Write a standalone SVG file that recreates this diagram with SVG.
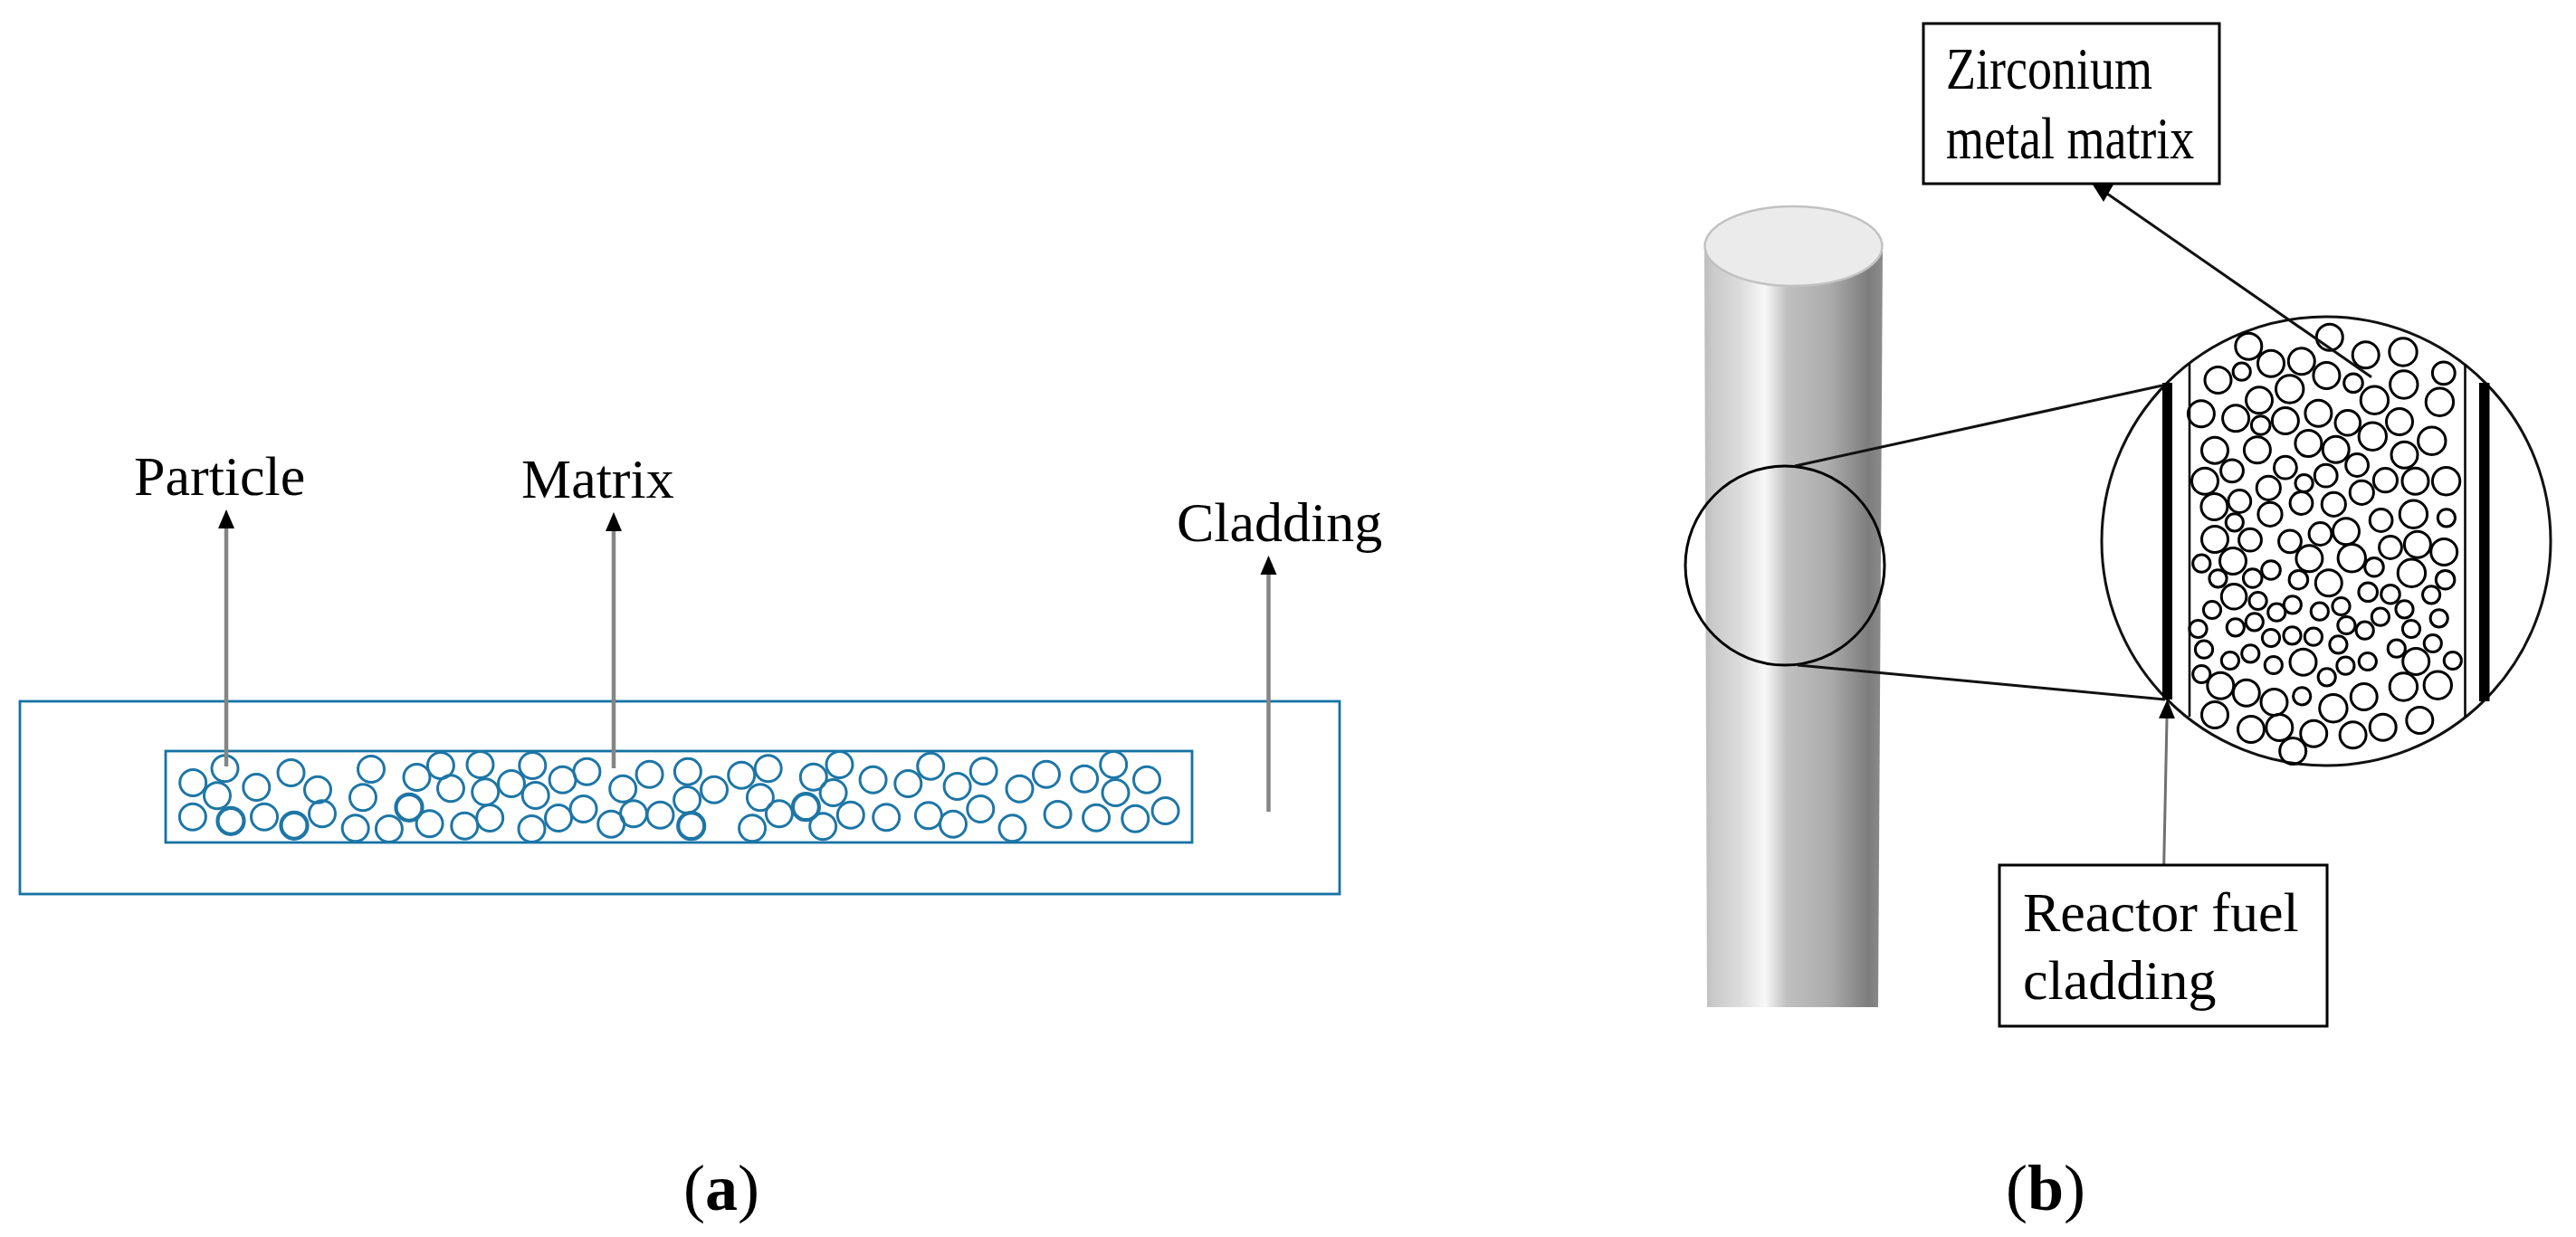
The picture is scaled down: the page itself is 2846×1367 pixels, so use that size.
<svg xmlns="http://www.w3.org/2000/svg" width="2846" height="1367" viewBox="0 0 2846 1367">
<style>
.t{font-family:"Liberation Serif","Times New Roman",serif;font-size:62px;fill:#000}
.z{font-size:54px}
.cap{font-size:72px}
.b{font-weight:bold}
.blue{fill:none;stroke:#1472a4;stroke-width:2.8}
.pa{fill:none;stroke:#1d76a6;stroke-width:3}
.th{stroke-width:4.2}
.bk{fill:none;stroke:#000;stroke-width:3}
.box{fill:#fff;stroke:#000;stroke-width:3}
.ar{stroke:#858585;stroke-width:4.5;fill:none;marker-end:url(#h)}
.zm{stroke:#111;stroke-width:3;fill:none}
.bar{fill:#000}
</style>
<defs>
<marker id="h" markerUnits="userSpaceOnUse" markerWidth="22" markerHeight="20" refX="0" refY="10" orient="auto"><path d="M0 1 L21 10 L0 19 Z" fill="#000"/></marker>
<linearGradient id="cyl" x1="0" y1="0" x2="1" y2="0">
<stop offset="0" stop-color="#bdbdbd"/><stop offset=".05" stop-color="#cacaca"/><stop offset=".2" stop-color="#dcdcdc"/><stop offset=".34" stop-color="#f8f8f8"/><stop offset=".46" stop-color="#c0c0c0"/><stop offset=".7" stop-color="#acacac"/><stop offset=".92" stop-color="#7d7d7d"/><stop offset="1" stop-color="#8c8c8c"/>
</linearGradient>
</defs>
<rect width="2846" height="1367" fill="#fff"/>
<g id="cladding-rect"><rect class="blue" x="22" y="775" width="1458" height="213"/></g>
<g id="matrix-rect"><rect class="blue" x="183" y="830" width="1134" height="101"/></g>
<g id="particles" class="pa">
<circle cx="248.5" cy="849.3" r="14.5"/><circle cx="213.2" cy="865" r="14.5"/><circle cx="240" cy="879.3" r="14.5"/><circle cx="283.3" cy="870" r="14.5"/><circle cx="321.5" cy="854" r="14.5"/><circle cx="351" cy="872.7" r="14.5"/><circle cx="212.9" cy="902.7" r="14.5"/><circle class="th" cx="255" cy="907.3" r="14.5"/><circle cx="292" cy="902.7" r="14.5"/><circle class="th" cx="325" cy="912.3" r="14.5"/><circle cx="356" cy="899.3" r="14.5"/><circle cx="410" cy="850" r="14.5"/><circle cx="401" cy="881.3" r="14.5"/><circle cx="392.7" cy="915.3" r="14.5"/><circle cx="429.9" cy="916" r="14.5"/><circle class="th" cx="452" cy="892.3" r="14.5"/><circle cx="474.6" cy="910.3" r="14.5"/><circle cx="460.5" cy="859" r="14.5"/><circle cx="486.9" cy="846" r="14.5"/><circle cx="498" cy="871.3" r="14.5"/><circle cx="530.5" cy="845" r="14.5"/><circle cx="536.2" cy="875.3" r="14.5"/><circle cx="565" cy="866" r="14.5"/><circle cx="588.3" cy="846" r="14.5"/><circle cx="591.7" cy="879" r="14.5"/><circle cx="621.6" cy="861.7" r="14.5"/><circle cx="648.4" cy="852.7" r="14.5"/><circle cx="688.2" cy="871.7" r="14.5"/><circle cx="717.6" cy="855.7" r="14.5"/><circle cx="617" cy="904" r="14.5"/><circle cx="644.6" cy="894" r="14.5"/><circle cx="675.2" cy="910.7" r="14.5"/><circle cx="700" cy="899.3" r="14.5"/><circle cx="729.5" cy="900.7" r="14.5"/><circle cx="541.2" cy="904" r="14.5"/><circle cx="513.3" cy="912.7" r="14.5"/><circle cx="587.5" cy="916" r="14.5"/>
<circle cx="759.9" cy="852.7" r="14.5"/><circle cx="759.1" cy="884" r="14.5"/><circle class="th" cx="763.7" cy="912.7" r="14.5"/><circle cx="789" cy="872.7" r="14.5"/><circle cx="819.2" cy="856.7" r="14.5"/><circle cx="848.7" cy="849.3" r="14.5"/><circle cx="839.9" cy="881.3" r="14.5"/><circle cx="860.9" cy="899.3" r="14.5"/><circle cx="831.1" cy="915.3" r="14.5"/><circle class="th" cx="890.4" cy="891.7" r="14.5"/><circle cx="909.2" cy="913.3" r="14.5"/><circle cx="898.8" cy="858.7" r="14.5"/><circle cx="927.5" cy="845" r="14.5"/><circle cx="920.6" cy="876" r="14.5"/><circle cx="939.8" cy="900.7" r="14.5"/><circle cx="964.6" cy="861.7" r="14.5"/><circle cx="979.2" cy="903.3" r="14.5"/><circle cx="1003.3" cy="866" r="14.5"/><circle cx="1028.2" cy="846.7" r="14.5"/><circle cx="1057.6" cy="869" r="14.5"/><circle cx="1086.7" cy="852.3" r="14.5"/><circle cx="1025.9" cy="901.3" r="14.5"/><circle cx="1053" cy="910.7" r="14.5"/><circle cx="1083.3" cy="894" r="14.5"/><circle cx="1126.5" cy="871.7" r="14.5"/><circle cx="1156" cy="855.7" r="14.5"/><circle cx="1198.1" cy="860.7" r="14.5"/><circle cx="1230.2" cy="845" r="14.5"/><circle cx="1232.5" cy="876" r="14.5"/><circle cx="1267" cy="861.7" r="14.5"/><circle cx="1118.5" cy="915.3" r="14.5"/><circle cx="1168.6" cy="900" r="14.5"/><circle cx="1211.1" cy="903.7" r="14.5"/><circle cx="1254.3" cy="904.7" r="14.5"/><circle cx="1287.6" cy="896" r="14.5"/>
</g>
<g id="label-particle"><text class="t" x="148" y="547">Particle</text></g>
<g id="label-matrix"><text class="t" x="576" y="550">Matrix</text></g>
<g id="label-cladding"><text class="t" x="1300" y="598">Cladding</text></g>
<g id="caption-a"><text class="t cap" x="755" y="1337">(<tspan class="b">a</tspan>)</text></g>

<g id="cylinder">
<path d="M1883 272 L2080 272 L2075 1113 L1886 1113 Z" fill="url(#cyl)"/>
<ellipse cx="1981.5" cy="272" rx="98" ry="44" fill="#ebebeb" stroke="#c2c2c2" stroke-width="2.5"/>
</g>
<g id="detail-circle"><circle cx="1972" cy="625" r="110" fill="none" stroke="#000" stroke-width="3"/></g>
<g id="magnified">
<circle cx="2570" cy="598" r="248" fill="#fff" stroke="#111" stroke-width="3"/>
<rect class="bar" x="2389" y="423" width="11" height="350"/>
<rect class="bar" x="2739" y="423" width="11.5" height="352"/>
<line x1="2419" y1="402" x2="2419" y2="792" stroke="#000" stroke-width="2.5"/>
<line x1="2723.5" y1="402" x2="2723.5" y2="792" stroke="#000" stroke-width="2.5"/>
</g>
<g id="grains" class="bk">
<circle cx="2484.3" cy="382.7" r="14.5"/><circle cx="2476.7" cy="410.7" r="9.6"/><circle cx="2509" cy="401.7" r="14.5"/><circle cx="2542.8" cy="399.3" r="14.5"/><circle cx="2450.5" cy="420" r="14.5"/><circle cx="2573.8" cy="372.7" r="14.5"/><circle cx="2613.7" cy="392.3" r="14.5"/><circle cx="2655" cy="389" r="15.2"/><circle cx="2699.8" cy="412.3" r="12.4"/><circle cx="2570.4" cy="415" r="14.5"/><circle cx="2600" cy="423.3" r="10.3"/><circle cx="2529.7" cy="430" r="15.2"/><circle cx="2655.8" cy="425" r="15.2"/><circle cx="2623.4" cy="442.3" r="15.2"/><circle cx="2496" cy="442.3" r="14.5"/><circle cx="2695.4" cy="444.3" r="15.2"/><circle cx="2431.9" cy="457.3" r="14.5"/><circle cx="2470.1" cy="462.3" r="14.5"/><circle cx="2497.7" cy="470" r="10.3"/><circle cx="2524.9" cy="465" r="14.5"/><circle cx="2561.4" cy="456.7" r="14.5"/><circle cx="2593.8" cy="467.3" r="13.8"/><circle cx="2651" cy="466" r="14.5"/><circle cx="2621.3" cy="482.3" r="15.2"/><circle cx="2550.4" cy="490" r="14.5"/><circle cx="2580.7" cy="496.7" r="14.5"/><circle cx="2686.8" cy="487.3" r="15.2"/><circle cx="2447" cy="497.7" r="14.5"/><circle cx="2493.9" cy="497.3" r="14.5"/><circle cx="2656.5" cy="502.7" r="14.5"/><circle cx="2604.1" cy="514" r="12.4"/><circle cx="2524.9" cy="516.7" r="12.4"/><circle cx="2466" cy="520.3" r="12.4"/><circle cx="2436" cy="531.7" r="14.5"/><circle cx="2569.7" cy="525.7" r="12.4"/><circle cx="2545.6" cy="534" r="9.6"/><circle cx="2506.3" cy="539.3" r="13.1"/><circle cx="2635.4" cy="530.7" r="13.1"/><circle cx="2668.5" cy="531.7" r="14.5"/><circle cx="2702.6" cy="531.7" r="15.2"/><circle cx="2609.3" cy="544.3" r="13.1"/><circle cx="2446.4" cy="560" r="14.5"/><circle cx="2474.3" cy="554" r="12.4"/><circle cx="2542.5" cy="556" r="12.4"/><circle cx="2578.3" cy="557.3" r="13.1"/><circle cx="2508" cy="568.3" r="13.1"/><circle cx="2630.6" cy="575" r="12.4"/><circle cx="2666.4" cy="568.3" r="15.2"/><circle cx="2702.9" cy="572.3" r="9.6"/><circle cx="2468.8" cy="577.3" r="9.6"/>
<circle cx="2447" cy="596" r="14.5"/><circle cx="2486" cy="596.7" r="12.4"/><circle cx="2530" cy="598.3" r="12.4"/><circle cx="2563.5" cy="590" r="12.4"/><circle cx="2592" cy="587.3" r="14.5"/><circle cx="2641" cy="605" r="12.4"/><circle cx="2670.9" cy="601.7" r="14.5"/><circle cx="2700.2" cy="610" r="14.5"/><circle cx="2551.4" cy="617.3" r="14.5"/><circle cx="2598.3" cy="616.7" r="15.2"/><circle cx="2623" cy="626.7" r="10.3"/><circle cx="2467" cy="620" r="14.5"/><circle cx="2432.3" cy="622.7" r="9.6"/><circle cx="2664.4" cy="633.3" r="15.2"/><circle cx="2509" cy="630" r="10.3"/><circle cx="2450.5" cy="639.3" r="9.6"/><circle cx="2488.7" cy="639" r="10.3"/><circle cx="2539.4" cy="640.7" r="10.3"/><circle cx="2572.8" cy="644.3" r="14.5"/><circle cx="2701.6" cy="640.7" r="10.3"/><circle cx="2616.2" cy="654.3" r="10.3"/><circle cx="2641" cy="656.7" r="10.3"/><circle cx="2686.1" cy="657.3" r="9.6"/><circle cx="2468.1" cy="659.3" r="13.8"/><circle cx="2494.6" cy="664" r="9.6"/><circle cx="2444" cy="674" r="9.6"/><circle cx="2532.8" cy="668.3" r="9.6"/><circle cx="2515.3" cy="676.7" r="9.6"/><circle cx="2562.8" cy="675.7" r="9.6"/><circle cx="2586.5" cy="670" r="9.6"/><circle cx="2656.5" cy="673.3" r="9.6"/><circle cx="2694.7" cy="683.3" r="9.6"/><circle cx="2629.9" cy="681.7" r="9.6"/><circle cx="2592.4" cy="691" r="9.6"/><circle cx="2612.7" cy="696.7" r="9.6"/><circle cx="2490.8" cy="687.3" r="9.6"/><circle cx="2469.8" cy="693.3" r="9.6"/><circle cx="2664" cy="695" r="9.6"/><circle cx="2428.5" cy="695" r="9.6"/><circle cx="2509" cy="705" r="9.6"/><circle cx="2532.5" cy="702.3" r="9.6"/><circle cx="2555.9" cy="703.7" r="9.6"/><circle cx="2583.4" cy="712.3" r="9.6"/><circle cx="2647.8" cy="716.7" r="9.6"/><circle cx="2687.8" cy="711" r="9.6"/><circle cx="2435" cy="717.7" r="9.6"/><circle cx="2486.3" cy="722.3" r="9.6"/><circle cx="2463.9" cy="730" r="9.6"/><circle cx="2511.8" cy="735" r="9.6"/><circle cx="2544.5" cy="731.7" r="14.5"/><circle cx="2591.4" cy="735.7" r="9.6"/><circle cx="2615.8" cy="731" r="9.6"/><circle cx="2669.2" cy="731" r="14.5"/><circle cx="2709.8" cy="730" r="9.6"/><circle cx="2570.7" cy="748.3" r="9.6"/><circle cx="2432.3" cy="745" r="9.6"/><circle cx="2453.3" cy="757.7" r="14.5"/><circle cx="2481.8" cy="765.7" r="14.5"/><circle cx="2512.5" cy="776" r="14.5"/><circle cx="2543.2" cy="769.3" r="9.6"/><circle cx="2611.7" cy="770" r="14.5"/><circle cx="2655.4" cy="759" r="15.2"/><circle cx="2693.3" cy="757.3" r="15.2"/><circle cx="2577.9" cy="782.7" r="15.2"/><circle cx="2447" cy="790" r="14.5"/><circle cx="2487" cy="806" r="14.5"/><circle cx="2518.3" cy="804" r="14.5"/><circle cx="2556.2" cy="810.7" r="14.5"/><circle cx="2599.6" cy="812.3" r="14.5"/><circle cx="2632.7" cy="803.7" r="14.5"/><circle cx="2673.3" cy="796" r="14.5"/><circle cx="2533.2" cy="830" r="14.5"/>
</g>
<g id="connectors">
<line class="ar" x1="250" y1="847" x2="250" y2="584"/>
<line class="ar" x1="678" y1="849" x2="678" y2="587"/>
<line class="ar" x1="1401.5" y1="897" x2="1401.5" y2="635"/>
<line class="zm" x1="1983" y1="515" x2="2389" y2="426"/>
<line class="zm" x1="1986" y1="735" x2="2392" y2="773"/>
<line class="zm" x1="2620" y1="416.7" x2="2328" y2="214"/>
<polygon points="2312,204 2335,204 2324,223" fill="#000"/>
<line x1="2390.7" y1="956" x2="2394" y2="794" stroke="#707070" stroke-width="3" marker-end="url(#h)"/>
</g>
<g id="box-zirconium">
<rect class="box" x="2125" y="26" width="327" height="177"/>
<text class="t z" transform="translate(2150 98) scale(1 1.2)">Zirconium</text>
<text class="t z" transform="translate(2150 175) scale(1 1.2)">metal matrix</text>
</g>
<g id="box-reactor">
<rect class="box" x="2209" y="956" width="362" height="178"/>
<text class="t" x="2235" y="1029">Reactor fuel</text>
<text class="t" x="2235" y="1104">cladding</text>
</g>
<g id="caption-b"><text class="t cap" x="2216" y="1337">(<tspan class="b">b</tspan>)</text></g>
</svg>
